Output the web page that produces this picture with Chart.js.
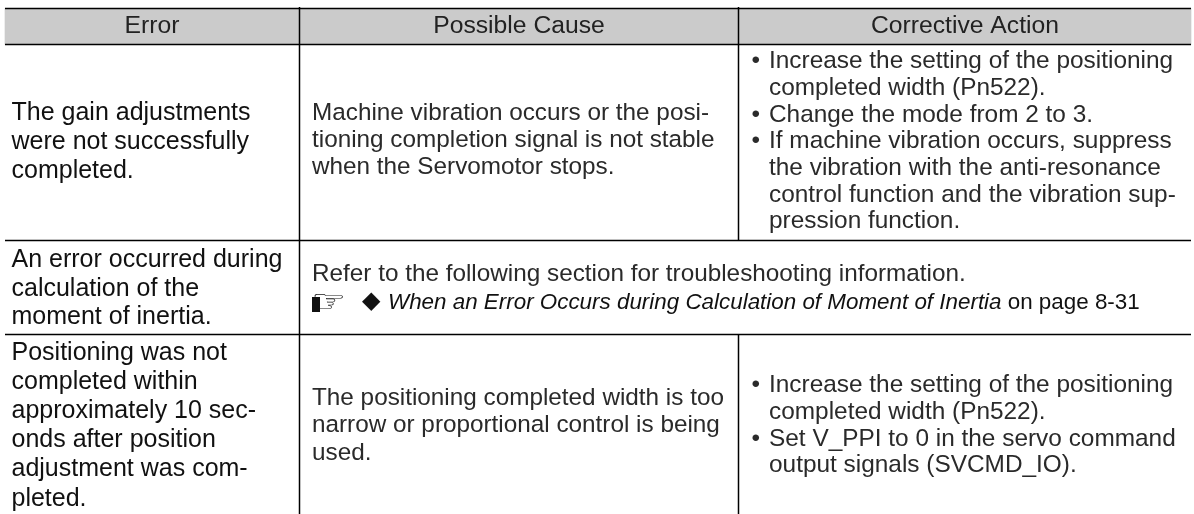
<!DOCTYPE html>
<html>
<head>
<meta charset="utf-8">
<style>
  html, body { margin: 0; padding: 0; background: #fff; }
  #wrap { position: relative; width: 1194px; height: 514px; }
</style>
<script src="https://cdn.jsdelivr.net/npm/chart.js@4"></script>
</head>
<body>
<div id="wrap"><canvas id="tableChart"></canvas></div>
<script>
// table grid, in picture units
const leftEdge = 5;
const rightEdge = 1191;
const rowRules = [8.5, 44.5, 240.5, 334.5];
const firstColumnRule = [299.5, 7, 514];
const secondColumnRuleTop = [738.5, 7, 240.5];
const secondColumnRuleBottom = [738.5, 334.5, 514];
const headerBand = [8.5, 44.5];

const headers = ["Error", "Possible Cause", "Corrective Action"];
const headerCenters = [152, 519, 965];

// [text, baseline]
const errorLines = [
  ["The gain adjustments", 120], ["were not successfully", 148.5], ["completed.", 177.5],
  ["An error occurred during", 267], ["calculation of the", 295.5], ["moment of inertia.", 324],
  ["Positioning was not", 360], ["completed within", 389], ["approximately 10 sec-", 418],
  ["onds after position", 447], ["adjustment was com-", 476], ["pleted.", 505.5]
];
const causeLines = [
  ["Machine vibration occurs or the posi-", 119.5], ["tioning completion signal is not stable", 146.5], ["when the Servomotor stops.", 173.5],
  ["Refer to the following section for troubleshooting information.", 281],
  ["The positioning completed width is too", 405], ["narrow or proportional control is being", 432], ["used.", 459.5]
];
const actionLines = [
  ["Increase the setting of the positioning", 68, true], ["completed width (Pn522).", 95, false],
  ["Change the mode from 2 to 3.", 121.5, true], ["If machine vibration occurs, suppress", 148, true],
  ["the vibration with the anti-resonance", 175, false], ["control function and the vibration sup-", 201.5, false],
  ["pression function.", 228, false],
  ["Increase the setting of the positioning", 392, true], ["completed width (Pn522).", 419, false],
  ["Set V_PPI to 0 in the servo command", 445.5, true], ["output signals (SVCMD_IO).", 472, false]
];
const refParts = ["When an Error Occurs during Calculation of Moment of Inertia", " on page 8-31"];
const refBaseline = 309;

const bandColor = "#cbcbcb";
const lineColor = "#000000";
const textColor = "#2a2a2a";
const fontFamily = '"Liberation Sans", Arial, sans-serif';

function hLine(y) {
  return { type: "line", order: 0, data: [{ x: leftEdge, y: y }, { x: rightEdge, y: y }], borderColor: lineColor, borderWidth: 1.5, pointRadius: 0 };
}
function vLine(rule) {
  return { type: "line", order: 0, data: [{ x: rule[0], y: rule[1] }, { x: rule[0], y: rule[2] }], borderColor: lineColor, borderWidth: 1.5, pointRadius: 0 };
}

const tableText = {
  id: "tableText",
  afterDatasetsDraw(chart) {
    const ctx = chart.ctx;
    const sx = chart.scales.x, sy = chart.scales.y;
    ctx.save();
    ctx.fillStyle = "#222222";
    ctx.textBaseline = "alphabetic";

    ctx.font = "24.7px " + fontFamily;
    ctx.textAlign = "center";
    headers.forEach(function (h, i) {
      ctx.fillText(h, sx.getPixelForValue(headerCenters[i]), sy.getPixelForValue(33));
    });

    ctx.textAlign = "left";
    ctx.font = "25px " + fontFamily;
    ctx.fillStyle = "#111111";
    errorLines.forEach(function (l) {
      ctx.fillText(l[0], sx.getPixelForValue(11.5), sy.getPixelForValue(l[1]));
    });

    ctx.fillStyle = textColor;
    ctx.font = "24.3px " + fontFamily;
    causeLines.forEach(function (l) {
      ctx.fillText(l[0], sx.getPixelForValue(312), sy.getPixelForValue(l[1]));
    });
    ctx.font = "24.4px " + fontFamily;
    actionLines.forEach(function (l) {
      if (l[2]) ctx.fillText("\u2022", sx.getPixelForValue(751.5), sy.getPixelForValue(l[1]));
      ctx.fillText(l[0], sx.getPixelForValue(769), sy.getPixelForValue(l[1]));
    });

    // cross reference line
    const y = sy.getPixelForValue(refBaseline);
    ctx.fillStyle = "#111111";
    ctx.save();
    ctx.translate(sx.getPixelForValue(311), y + 3);
    ctx.scale(1.3, 1.05);
    ctx.font = '30px "DejaVu Sans"';
    ctx.fillText("\u261E", 0, 0);
    ctx.restore();
    ctx.fillRect(sx.getPixelForValue(312), sy.getPixelForValue(297), 8, 15);
    ctx.font = '24px "DejaVu Sans"';
    ctx.fillText("\u25C6", sx.getPixelForValue(362), y - 1);
    ctx.font = "italic 22.4px " + fontFamily;
    let x = sx.getPixelForValue(388);
    ctx.fillText(refParts[0], x, y);
    x += ctx.measureText(refParts[0]).width;
    ctx.font = "22.4px " + fontFamily;
    ctx.fillText(refParts[1], x, y);
    ctx.restore();
  }
};

new Chart(document.getElementById("tableChart"), {
  type: "line",
  data: {
    datasets: [
      { type: "bar", order: 1, data: [{ x: (leftEdge + rightEdge) / 2, y: headerBand }], backgroundColor: bandColor, barThickness: rightEdge - leftEdge }
    ].concat(rowRules.map(hLine), [firstColumnRule, secondColumnRuleTop, secondColumnRuleBottom].map(vLine))
  },
  options: {
    responsive: true,
    maintainAspectRatio: false,
    animation: false,
    events: [],
    layout: { padding: 0 },
    plugins: { legend: { display: false }, tooltip: { enabled: false } },
    scales: {
      x: { type: "linear", min: 0, max: 1194, display: false, offset: false },
      y: { type: "linear", min: 0, max: 514, reverse: true, display: false }
    }
  },
  plugins: [tableText]
});
</script>
</body>
</html>
